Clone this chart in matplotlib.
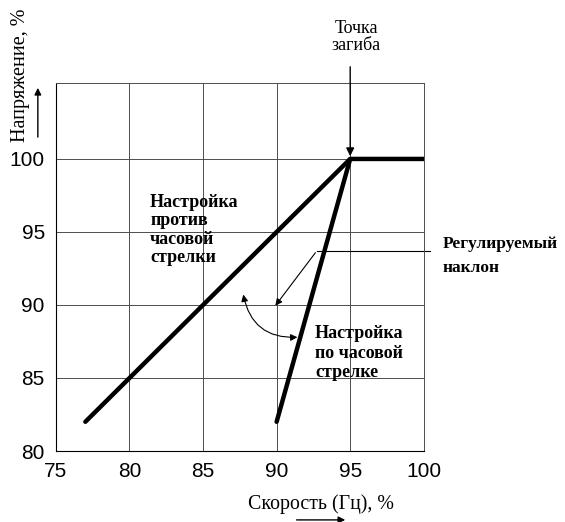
import matplotlib.pyplot as plt
from matplotlib.patches import FancyArrowPatch

# data
ccw_x = [77, 95]
ccw_y = [82, 100]
cw_x = [90, 95, 100]
cw_y = [82, 100, 100]
xticks = [75, 80, 85, 90, 95, 100]
yticks = [80, 85, 90, 95, 100]

serif = ['Liberation Serif', 'DejaVu Serif']
sans = ['Liberation Sans', 'DejaVu Sans']

fig = plt.figure(figsize=(5.65, 5.22), dpi=100)
ax = fig.add_axes([0.099, 0.136, 0.651, 0.705])
ax.set_xlim(75, 100)
ax.set_ylim(80, 105.2)

for x in xticks[1:]:
    ax.axvline(x, color='0.3', lw=0.7, zorder=1)
for y in yticks[1:]:
    ax.axhline(y, color='0.3', lw=0.7, zorder=1)

ax.plot(ccw_x, ccw_y, color='black', lw=3.2, solid_capstyle='round', zorder=3)
ax.plot(cw_x, cw_y, color='black', lw=3.2, solid_capstyle='round', zorder=3)

ax.set_xticks(xticks)
ax.set_yticks(yticks)
ax.tick_params(length=0, pad=8, labelsize=15)
for lab in ax.get_xticklabels() + ax.get_yticklabels():
    lab.set_family(sans)
for s in ['top', 'right']:
    ax.spines[s].set_color('0.3')
    ax.spines[s].set_linewidth(0.7)

ax.set_xlabel('Скорость (Гц), %', family=serif, fontsize=14.3)
ax.xaxis.set_label_coords(0.72, -0.118)
fig.text(0.037, 0.983, 'Напряжение, %', family=serif, fontsize=14.5,
         rotation=90, ha='center', va='top')

# axis direction arrows
fig.add_artist(FancyArrowPatch((0.067, 0.732), (0.067, 0.837), transform=fig.transFigure,
                               arrowstyle='-|>', mutation_scale=10, color='black', lw=1))
fig.add_artist(FancyArrowPatch((0.52, 0.004), (0.616, 0.004), transform=fig.transFigure,
                               arrowstyle='-|>', mutation_scale=10, color='black', lw=1))

# knee point
ax.text(95.4, 109.5, 'Точка\nзагиба', family=serif, fontsize=13, ha='center',
        va='top', linespacing=1.0, clip_on=False)
ax.annotate('', xy=(95, 100), xytext=(95, 106.5), annotation_clip=False,
            arrowprops=dict(arrowstyle='-|>', color='black', lw=1, mutation_scale=12))

ax.text(81.4, 97.6, 'Настройка\nпротив\nчасовой\nстрелки', family=serif,
        fontsize=13, fontweight='bold', ha='left', va='top', linespacing=1.1)
ax.text(92.6, 88.6, 'Настройка\nпо часовой\nстрелке', family=serif,
        fontsize=13, fontweight='bold', ha='left', va='top', linespacing=1.18)
ax.text(101.3, 94.7, 'Регулируемый\nнаклон', family=serif, fontsize=12.5,
        fontweight='bold', ha='left', va='top', linespacing=1.6, clip_on=False)

# leader for adjustable slope
ax.plot([100.4, 92.75], [93.73, 93.73], color='black', lw=0.8, clip_on=False)
ax.annotate('', xy=(89.8, 89.8), xytext=(92.75, 93.73),
            arrowprops=dict(arrowstyle='-|>', color='black', lw=0.8, mutation_scale=10))
# curved double arrow
ax.annotate('', xy=(87.7, 90.9), xytext=(91.6, 87.8),
            arrowprops=dict(arrowstyle='<|-|>', color='black', lw=0.8, mutation_scale=10,
                            connectionstyle='arc3,rad=-0.45'))

fig.savefig('out.png', dpi=100)
